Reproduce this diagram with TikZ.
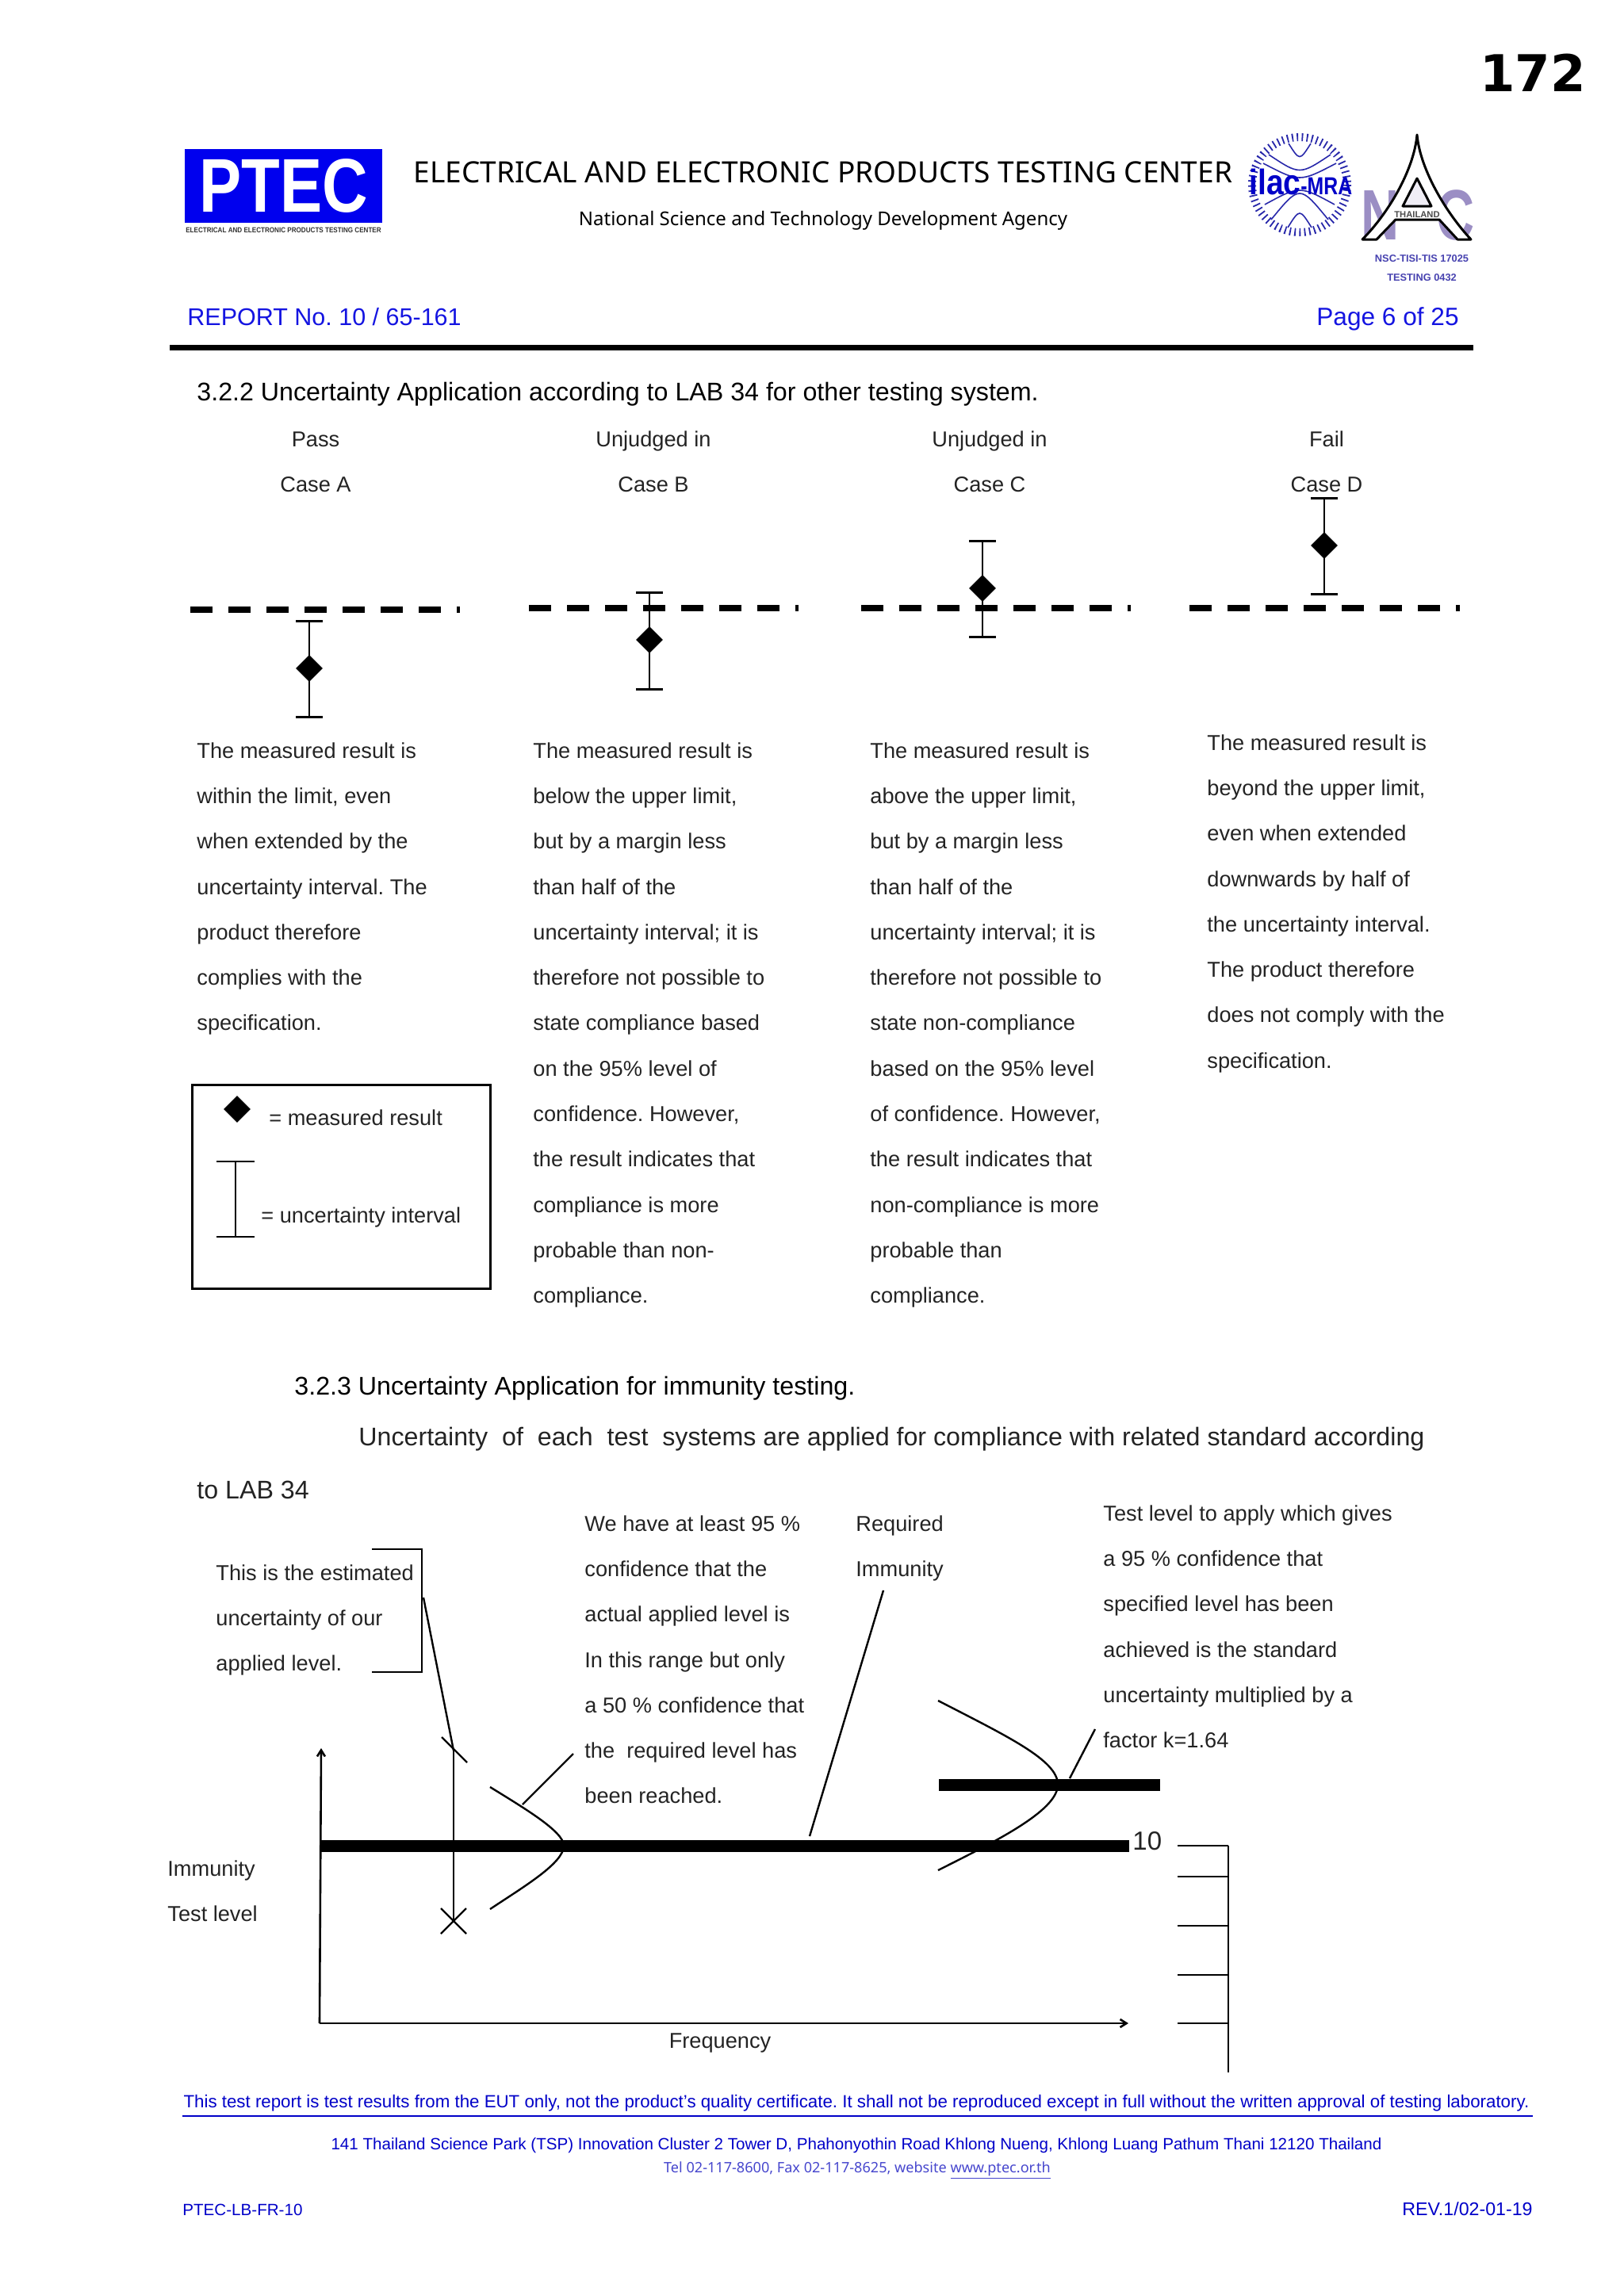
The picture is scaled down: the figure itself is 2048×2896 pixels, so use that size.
\documentclass[tikz,border=0pt]{standalone}
\usepackage{fontspec}
\usepackage{tikz}
\usetikzlibrary{positioning,arrows.meta,shapes.geometric}
\usepackage{xcolor}
\setmainfont{Liberation Sans}
\newfontfamily\headfont{Noto Sans}
\newfontfamily\pagefont{DejaVu Sans}
\definecolor{ptecblue}{RGB}{0,0,238}
\definecolor{reportblue}{RGB}{20,20,225}
\definecolor{footblue}{RGB}{0,0,200}
\definecolor{telblue}{RGB}{70,70,205}
\definecolor{nacpurple}{RGB}{155,142,196}
\definecolor{nacblue}{RGB}{70,65,175}
\definecolor{ilacblue}{RGB}{40,40,170}
\definecolor{bodygray}{RGB}{35,35,35}
\frenchspacing

\begin{document}
\begin{tikzpicture}[
    x=0.5pt, y=-0.5pt,
    txt/.style={anchor=base west, inner sep=0pt, text=bodygray,
                font=\fontsize{13.6pt}{28.65pt}\selectfont},
    txtc/.style={txt, anchor=base},
    para/.style={anchor=north west, inner sep=0pt, align=left, text=bodygray,
                 font=\fontsize{13.6pt}{28.65pt}\selectfont},
    headline/.style={anchor=base west, inner sep=0pt, text=black,
                     font=\fontsize{16.1pt}{18pt}\selectfont},
    footline/.style={anchor=base, inner sep=0pt, text=footblue,
                     font=\fontsize{10.3pt}{13pt}\selectfont},
    dashline/.style={line width=3.8pt, dash pattern=on 14pt off 10pt},
    errbar/.style={{Bar[width=17pt,line width=1.3pt]}-{Bar[width=17pt,line width=1.3pt]},
                   line width=1.2pt},
    mark diamond/.style={diamond, fill=black, inner sep=0pt, minimum size=17pt},
    level/.style={line width=7.5pt},
    leader/.style={line width=1.2pt},
    tick/.style={line width=1.2pt},
    axis/.style={line width=1.3pt, -{Straight Barb[length=4pt,width=5pt]}}
]
\useasboundingbox (0,0) rectangle (2048,2896);

% header
\node[anchor=base east, inner sep=0pt, font=\pagefont\bfseries\fontsize{32pt}{36pt}\selectfont] (pageNo) at (2000,115) {172};

\node[draw=none, fill=ptecblue, minimum width=124.5pt, minimum height=46.5pt, inner sep=0pt,
      text=white, font=\bfseries\fontsize{48pt}{50pt}\selectfont] (ptecLogo) at (357.5,234.5)
      {\scalebox{0.83}[1]{PTEC}};
\node[anchor=base, inner sep=0pt, text=black!80, font=\bfseries\fontsize{4.6pt}{5pt}\selectfont] (ptecSub) at (357.5,293)
      {\scalebox{0.88}[1]{ELECTRICAL AND ELECTRONIC PRODUCTS TESTING CENTER}};

\node[anchor=base, inner sep=0pt, font=\headfont\fontsize{18.5pt}{20pt}\selectfont] (labTitle) at (1038,230)
      {ELECTRICAL AND ELECTRONIC PRODUCTS TESTING CENTER};
\node[anchor=base, inner sep=0pt, font=\headfont\fontsize{12pt}{14pt}\selectfont] (labSub) at (1038,284)
      {National Science and Technology Development Agency};

% ilac mark
\begin{scope}[shift={(1639,233)}]
  \draw[ilacblue, line width=5pt, dash pattern=on 0.9pt off 2.2pt] (0,0) circle (60);
  \draw[ilacblue, line width=0.8pt] (-14,-52) .. controls (0,-30) .. (14,-52);
  \draw[ilacblue, line width=0.8pt] (-39,-38) .. controls (0,-12) .. (39,-38);
  \draw[ilacblue, line width=0.8pt] (-46,-27) .. controls (0,-3) .. (46,-27);
  \draw[ilacblue, line width=0.8pt] (-44,25) .. controls (0,1) .. (44,25);
  \draw[ilacblue, line width=0.8pt] (-36,44) .. controls (0,0) .. (36,44);
  \draw[ilacblue, line width=0.8pt] (-15,54) .. controls (0,30) .. (15,54);
  \node[anchor=base west, inner sep=0pt, text=footblue, font=\bfseries] (ilacName) at (-64,12)
      {\fontsize{22.4pt}{24pt}\selectfont\scalebox{0.87}[1]{ilac}\fontsize{15.5pt}{16pt}\selectfont\scalebox{0.8}[1]{-MRA}};
\end{scope}

% nac mark
\node[anchor=base, inner sep=0pt, text=nacpurple, font=\bfseries\fontsize{45pt}{46pt}\selectfont] (nacN) at (1741,302)
      {\scalebox{0.74}[1]{N}};
\node[anchor=base, inner sep=0pt, text=nacpurple, font=\bfseries\fontsize{45pt}{46pt}\selectfont] (nacC) at (1836,302)
      {\scalebox{0.74}[1]{C}};
\draw[black, fill=white, line width=1.5pt, line join=round]
    (1787,170) .. controls (1783,215) and (1750,270) .. (1718,302) -- (1736,302)
    -- (1760,277) -- (1815,277) -- (1838,302) -- (1855,302)
    .. controls (1825,270) and (1791,215) .. (1787,170) -- cycle;
\draw[black, fill=nacpurple!15, line width=1.5pt, line join=round] (1787,225) -- (1769,260) -- (1805,260) -- cycle;
\node[anchor=base, inner sep=0pt, text=black!70, font=\bfseries\fontsize{5.6pt}{6pt}\selectfont] (nacThai) at (1787,274) {THAILAND};
\node[anchor=base, inner sep=0pt, text=nacblue, font=\bfseries\fontsize{6.4pt}{8pt}\selectfont] (nacStd) at (1793,330) {NSC-TISI-TIS 17025};
\node[anchor=base, inner sep=0pt, text=nacblue, font=\bfseries\fontsize{6.4pt}{8pt}\selectfont] (nacTest) at (1793,354) {TESTING 0432};

\node[anchor=base west, inner sep=0pt, text=reportblue, font=\fontsize{15.25pt}{18pt}\selectfont] (reportNo) at (236,410) {REPORT No. 10 / 65-161};
\node[anchor=base east, inner sep=0pt, text=reportblue, font=\fontsize{15.8pt}{18pt}\selectfont] (pageOf) at (1840,410) {Page 6 of 25};
\coordinate (ruleL) at (214,438);
\coordinate (ruleR) at (1858,438);
\draw[line width=3.5pt] (ruleL) -- (ruleR);

% 3.2.2
\node[headline] (sec322) at (248,505) {3.2.2 Uncertainty Application according to LAB 34 for other testing system.};

\node[txtc] (passA) at (398,563) {Pass};
\node[txtc] (passB) at (824,563) {Unjudged in};
\node[txtc] (passC) at (1248,563) {Unjudged in};
\node[txtc] (passD) at (1673,563) {Fail};
\node[txtc] (caseA) at (398,620) {Case A};
\node[txtc] (caseB) at (824,620) {Case B};
\node[txtc] (caseC) at (1248,620) {Case C};
\node[txtc] (caseD) at (1673,620) {Case D};

\coordinate (limA1) at (240,769);
\coordinate (limA2) at (580,769);
\coordinate (limB1) at (667,767);
\coordinate (limB2) at (1007,767);
\coordinate (limC1) at (1086,767);
\coordinate (limC2) at (1426,767);
\coordinate (limD1) at (1500,767);
\coordinate (limD2) at (1841,767);
\draw[dashline] (limA1) -- (limA2);
\draw[dashline] (limB1) -- (limB2);
\draw[dashline] (limC1) -- (limC2);
\draw[dashline] (limD1) -- (limD2);

\coordinate (barAt) at (390,782);
\coordinate (barAb) at (390,906);
\coordinate (barBt) at (819,746);
\coordinate (barBb) at (819,871);
\coordinate (barCt) at (1239,681);
\coordinate (barCb) at (1239,805);
\coordinate (barDt) at (1670,627);
\coordinate (barDb) at (1670,751);
\draw[errbar] (barAt) -- (barAb);
\draw[errbar] (barBt) -- (barBb);
\draw[errbar] (barCt) -- (barCb);
\draw[errbar] (barDt) -- (barDb);
\node[mark diamond] (markA) at (390,843) {};
\node[mark diamond] (markB) at (819,807) {};
\node[mark diamond] (markC) at (1239,742) {};
\node[mark diamond] (markD) at (1670,688) {};

\node[para] (textA) at (248,936) {
    The measured result is\\
    within the limit, even\\
    when extended by the\\
    uncertainty interval. The\\
    product therefore\\
    complies with the\\
    specification.
};
\node[para] (textB) at (672,936) {
    The measured result is\\
    below the upper limit,\\
    but by a margin less\\
    than half of the\\
    uncertainty interval; it is\\
    therefore not possible to\\
    state compliance based\\
    on the 95\% level of\\
    confidence. However,\\
    the result indicates that\\
    compliance is more\\
    probable than non-\\
    compliance.
};
\node[para] (textC) at (1097,936) {
    The measured result is\\
    above the upper limit,\\
    but by a margin less\\
    than half of the\\
    uncertainty interval; it is\\
    therefore not possible to\\
    state non-compliance\\
    based on the 95\% level\\
    of confidence. However,\\
    the result indicates that\\
    non-compliance is more\\
    probable than\\
    compliance.
};
\node[para] (textD) at (1522,926) {
    The measured result is\\
    beyond the upper limit,\\
    even when extended\\
    downwards by half of\\
    the uncertainty interval.\\
    The product therefore\\
    does not comply with the\\
    specification.
};

% legend
\node[draw, line width=1.2pt, minimum width=188pt, minimum height=128.5pt, inner sep=0pt] (legendBox) at (430.5,1497) {};
\node[mark diamond] (legendMark) at (299,1399) {};
\node[txt] (legendMarkTxt) at (339,1419) {= measured result};
\coordinate (legendT) at (297,1464);
\coordinate (legendB) at (297,1561);
\draw[line width=1.2pt, {Bar[width=24pt,line width=1.2pt]}-{Bar[width=24pt,line width=1.2pt]}] (legendT) -- (legendB);
\node[txt] (legendBarTxt) at (329,1542) {= uncertainty interval};

% 3.2.3
\node[headline] (sec323) at (371,1759) {3.2.3 Uncertainty Application for immunity testing.};
\node[headline, text=bodygray] (introA) at (452,1823) {Uncertainty\ \ of\ \ each\ \ test\ \ systems are applied for compliance with related standard according};
\node[headline, text=bodygray] (introB) at (248,1890) {to LAB 34};

\node[para] (noteUnc) at (272,1973) {
    This is the estimated\\
    uncertainty of our\\
    applied level.
};
\coordinate (brkA) at (469,1954);
\coordinate (brkB) at (532,1954);
\coordinate (brkC) at (532,2109);
\coordinate (brkD) at (469,2109);
\draw[leader] (brkA) -- (brkB) -- (brkC) -- (brkD);

\node[para] (noteConf) at (737,1911) {
    We have at least 95 \%\\
    confidence that the\\
    actual applied level is\\
    In this range but only\\
    a 50 \% confidence that\\
    the\ \ required level has\\
    been reached.
};
\node[para] (noteReq) at (1079,1911) {
    Required\\
    Immunity
};
\node[para] (noteK) at (1391,1898) {
    Test level to apply which gives\\
    a 95 \% confidence that\\
    specified level has been\\
    achieved is the standard\\
    uncertainty multiplied by a\\
    factor k=1.64
};

% plot
\coordinate (origin) at (403,2552);
\coordinate (yEnd) at (405,2205);
\coordinate (xEnd) at (1423,2552);
\draw[axis] (origin) -- (yEnd);
\draw[axis] (origin) -- (xEnd);

\coordinate (reqL) at (404,2328);
\coordinate (reqR) at (1424,2328);
\coordinate (upL) at (1184,2251);
\coordinate (upR) at (1463,2251);
\draw[level] (reqL) -- (reqR);
\draw[level] (upL) -- (upR);

\coordinate (uncTop) at (572,2208);
\coordinate (uncBot) at (572,2423);
\draw[leader] (uncTop) -- (uncBot);
\coordinate (xTopA) at (557,2191);
\coordinate (xTopB) at (589,2223);
\coordinate (xBotA) at (556,2407);
\coordinate (xBotB) at (588,2439);
\coordinate (xBotC) at (556,2439);
\coordinate (xBotD) at (588,2407);
\draw[leader] (xTopA) -- (xTopB);
\draw[leader] (xBotA) -- (xBotB);
\draw[leader] (xBotC) -- (xBotD);
\coordinate (uncFrom) at (534,2015);
\draw[leader] (uncFrom) -- (uncTop);

\coordinate (bellAt) at (618,2254);
\coordinate (bellAp) at (711,2328);
\coordinate (bellAb) at (618,2408);
\draw[leader] (bellAt) .. controls (660,2280) and (711,2310) .. (bellAp)
    .. controls (711,2350) and (660,2380) .. (bellAb);
\coordinate (bellAq) at (659,2276);
\coordinate (confTip) at (723,2212);
\draw[leader] (confTip) -- (bellAq);

\coordinate (bellBt) at (1183,2145);
\coordinate (bellBp) at (1334,2251);
\coordinate (bellBb) at (1183,2359);
\draw[leader] (bellBt) .. controls (1270,2190) and (1334,2220) .. (bellBp)
    .. controls (1334,2285) and (1250,2325) .. (bellBb);

\coordinate (reqTip) at (1114,2006);
\coordinate (reqEnd) at (1021,2316);
\draw[leader] (reqTip) -- (reqEnd);
\coordinate (kTip) at (1381,2181);
\coordinate (kEnd) at (1349,2243);
\draw[leader] (kTip) -- (kEnd);

\node[anchor=base west, inner sep=0pt, text=bodygray, font=\fontsize{16.5pt}{18pt}\selectfont] (tenLabel) at (1428,2333) {10};
\node[txt] (immA) at (211,2366) {Immunity};
\node[txt] (immB) at (211,2423) {Test level};
\node[txtc] (freqLabel) at (908,2583) {Frequency};

\coordinate (scaleTop) at (1549,2328);
\coordinate (scaleBot) at (1549,2614);
\draw[tick] (scaleTop) -- (scaleBot);
\coordinate (tickA) at (1485,2328);
\coordinate (tickB) at (1485,2367);
\coordinate (tickC) at (1485,2429);
\coordinate (tickD) at (1485,2491);
\coordinate (tickE) at (1485,2552);
\draw[tick] (tickA) -- (tickA -| scaleTop);
\draw[tick] (tickB) -- (tickB -| scaleTop);
\draw[tick] (tickC) -- (tickC -| scaleTop);
\draw[tick] (tickD) -- (tickD -| scaleTop);
\draw[tick] (tickE) -- (tickE -| scaleTop);

% footer
\node[footline, font=\fontsize{11.15pt}{13pt}\selectfont] (footNote) at (1080,2658) {This test report is test results from the EUT only, not the product's quality certificate. It shall not be reproduced except in full without the written approval of testing laboratory.};
\coordinate (footL) at (230,2669);
\coordinate (footR) at (1933,2669);
\draw[footblue, line width=1pt] (footL) -- (footR);
\node[footline] (footAddr) at (1080,2711) {141 Thailand Science Park (TSP) Innovation Cluster 2 Tower D, Phahonyothin Road Khlong Nueng, Khlong Luang Pathum Thani 12120 Thailand};
\node[anchor=base, inner sep=0pt, text=telblue, font=\headfont\fontsize{9.05pt}{10pt}\selectfont] (footTel) at (1081,2740) {Tel 02-117-8600, Fax 02-117-8625, website \underline{www.ptec.or.th}};
\node[footline, anchor=base west] (formNo) at (230,2794) {PTEC-LB-FR-10};
\node[footline, anchor=base east, font=\fontsize{11.6pt}{13pt}\selectfont] (revNo) at (1933,2794) {REV.1/02-01-19};

\end{tikzpicture}
\end{document}
